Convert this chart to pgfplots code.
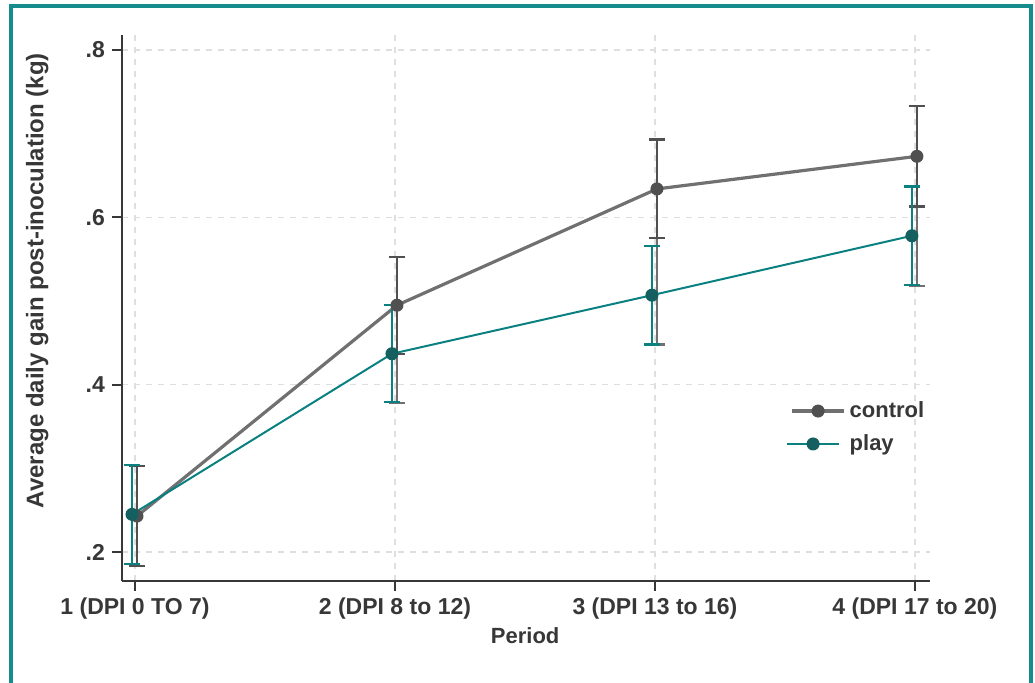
\documentclass[border=0pt]{standalone}
\usepackage{pgfplots}
\pgfplotsset{compat=1.18}
\usepackage{fontspec}
\setmainfont{Liberation Sans}
\definecolor{frame}{RGB}{22,140,140}
\definecolor{ctrl}{RGB}{112,112,112}
\definecolor{ctrlmark}{RGB}{80,80,80}
\definecolor{playc}{RGB}{10,128,128}
\definecolor{playmark}{RGB}{20,95,95}
\definecolor{txt}{RGB}{55,55,55}
\pgfplotstableread{
x y ep em
1 0.243 0.060 0.060
2 0.495 0.058 0.117
3 0.634 0.059 0.186
4 0.673 0.060 0.155
}\ctrltab
\pgfplotstableread{
x y e
1 0.243 0.060
2 0.495 0.058
3 0.634 0.059
4 0.673 0.060
}\ctrlsym
\pgfplotstableread{
x y e
1 0.245 0.059
2 0.437 0.058
3 0.507 0.059
4 0.578 0.059
}\playtab
\begin{document}
\begin{tikzpicture}[x=1pt,y=1pt]
\useasboundingbox (0,0) rectangle (517.5,341.5);
\draw[frame, line width=1.6pt] (5.5,-10) -- (5.5,338.5) -- (515.5,338.5) -- (515.5,-10);
\begin{axis}[
  at={(61pt,51pt)}, anchor=south west,
  scale only axis, width=404pt, height=273pt,
  xmin=0.95, xmax=4.058, ymin=0.1654, ymax=0.818,
  axis x line*=bottom, axis y line*=left,
  axis line style={-, draw=txt, line width=1.1pt},
  xtick={1,2,3,4}, ytick={0.2,0.4,0.6,0.8},
  xticklabels={1 (DPI 0 TO 7),2 (DPI 8 to 12),3 (DPI 13 to 16),4 (DPI 17 to 20)},
  yticklabels={.2,.4,.6,.8},
  tick align=outside, major tick length=5pt,
  tick style={draw=txt, line width=1pt},
  grid=major, major grid style={dashed, draw=gray!25, line width=0.6pt},
  ticklabel style={font=\bfseries\fontsize{11.5}{13}\selectfont, text=txt},
  xlabel={Period}, ylabel={Average daily gain post-inoculation (kg)},
  every axis x label/.style={at={(axis description cs:0.499,-0.10)}, anchor=center,
    font=\bfseries\fontsize{11}{13}\selectfont, text=txt},
  every axis y label/.style={at={(axis description cs:-0.105,0.55)}, rotate=90, anchor=center,
    font=\bfseries\fontsize{12}{14}\selectfont, text=txt},
  legend style={at={(0.814,0.344)}, anchor=north west, draw=none, fill=none,
    font=\bfseries\fontsize{11}{13}\selectfont, text=txt, row sep=3pt},
  legend cell align=left,
  legend image code/.code={\draw[#1, mark repeat=2, mark phase=2] plot coordinates {(0pt,0pt) (13pt,0pt) (26pt,0pt)};},
]
\addplot[ctrl, line width=1.6pt, xshift=1pt, mark=*, mark size=3pt,
  mark options={fill=ctrlmark, draw=ctrlmark, line width=0.5pt},
  error bars/.cd, y dir=both, y explicit,
  error bar style={ctrl, line width=1.2pt},
  error mark options={rotate=90, mark size=4pt, line width=1.2pt, draw=ctrl}]
  table[x=x, y=y, y error plus=ep, y error minus=em] {\ctrltab};
\addlegendentry{control}
\addplot[ctrlmark, only marks, mark=none, forget plot, xshift=1pt,
  error bars/.cd, y dir=both, y explicit,
  error bar style={ctrlmark, line width=1.2pt},
  error mark options={rotate=90, mark size=4pt, line width=1.2pt, draw=ctrlmark}]
  table[x=x, y=y, y error=e] {\ctrlsym};
\addplot[playc, line width=1pt, xshift=-1.5pt, mark=*, mark size=3pt,
  mark options={fill=playmark, draw=playmark, line width=0.5pt},
  error bars/.cd, y dir=both, y explicit,
  error bar style={playc, line width=1.1pt},
  error mark options={rotate=90, mark size=4pt, line width=1.2pt, draw=playc}]
  table[x=x, y=y, y error=e] {\playtab};
\addlegendentry{play}
\end{axis}
\end{tikzpicture}
\end{document}
